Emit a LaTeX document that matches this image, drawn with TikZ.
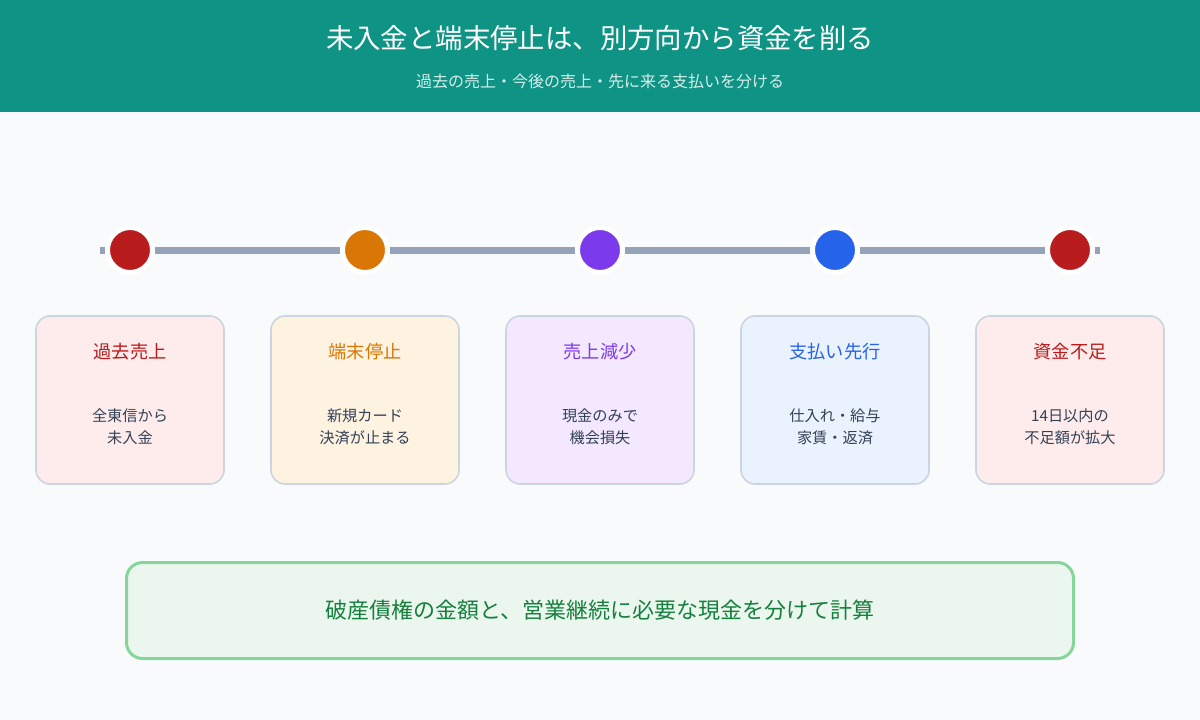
\documentclass[tikz,border=0pt]{standalone}
\usepackage{fontspec}
\setmainfont{Noto Sans CJK JP}
\definecolor{bg}{HTML}{F8FAFC}
\definecolor{teal}{HTML}{0E9384}
\definecolor{subt}{HTML}{D5EFEC}
\definecolor{linec}{HTML}{94A3B8}
\definecolor{cardb}{HTML}{CBD5E1}
\definecolor{bodyc}{HTML}{334155}
\definecolor{cred}{HTML}{B91C1C}
\definecolor{corange}{HTML}{D97706}
\definecolor{cpurple}{HTML}{7C3AED}
\definecolor{cblue}{HTML}{2563EB}
\definecolor{fred}{HTML}{FEECEC}
\definecolor{forange}{HTML}{FEF3E0}
\definecolor{fpurple}{HTML}{F3E8FF}
\definecolor{fblue}{HTML}{EAF2FE}
\definecolor{fgreen}{HTML}{EBF7EE}
\definecolor{bgreen}{HTML}{86D69B}
\definecolor{tgreen}{HTML}{15803D}
\tikzset{
  dot/.style={circle, fill=#1, draw=white, line width=5pt, minimum size=45pt, inner sep=0pt},
  card/.style={rounded corners=14pt, fill=#1, draw=cardb, line width=1.6pt, minimum width=188pt, minimum height=168pt},
  ctitle/.style={text=#1, font=\fontsize{18.2}{21}\selectfont},
  cbody/.style={text=bodyc, font=\fontsize{15.2}{22}\selectfont, align=center},
  tline/.style={draw=linec, line width=7pt}
}
\begin{document}
\begin{tikzpicture}[x=1pt,y=-1pt]
\useasboundingbox (0,0) rectangle (1200,720);
\fill[bg] (0,0) rectangle (1200,720);
\fill[teal] (0,0) rectangle (1200,112);
\node[text=white, font=\fontsize{27.4}{31}\selectfont] (title) at (600,38) {未入金と端末停止は、別方向から資金を削る};
\node[text=subt, font=\fontsize{16}{19}\selectfont] (sub) at (600,81) {過去の売上・今後の売上・先に来る支払いを分ける};

\coordinate (ls) at (100,250);
\coordinate (le) at (1100,250);
\node[dot=cred] (c1) at (130,250) {};
\node[dot=corange] (c2) at (365,250) {};
\node[dot=cpurple] (c3) at (600,250) {};
\node[dot=cblue] (c4) at (835,250) {};
\node[dot=cred] (c5) at (1070,250) {};
\draw[tline] (ls) -- (c1);
\draw[tline] (c1) -- (c2);
\draw[tline] (c2) -- (c3);
\draw[tline] (c3) -- (c4);
\draw[tline] (c4) -- (c5);
\draw[tline] (c5) -- (le);

\node[card=fred] (k1) at (130,400) {};
\node[card=forange] (k2) at (365,400) {};
\node[card=fpurple] (k3) at (600,400) {};
\node[card=fblue] (k4) at (835,400) {};
\node[card=fred] (k5) at (1070,400) {};

\node[ctitle=cred] (t1) at (130,352) {過去売上};
\node[ctitle=corange] (t2) at (365,352) {端末停止};
\node[ctitle=cpurple] (t3) at (600,352) {売上減少};
\node[ctitle=cblue] (t4) at (835,352) {支払い先行};
\node[ctitle=cred] (t5) at (1070,352) {資金不足};

\node[cbody] (b1) at (130,427) {全東信から\\未入金};
\node[cbody] (b2) at (365,427) {新規カード\\決済が止まる};
\node[cbody] (b3) at (600,427) {現金のみで\\機会損失};
\node[cbody] (b4) at (835,427) {仕入れ・給与\\家賃・返済};
\node[cbody] (b5) at (1070,427) {14日以内の\\不足額が拡大};

\node[rounded corners=16pt, fill=fgreen, draw=bgreen, line width=3pt, minimum width=947pt, minimum height=96pt, text=tgreen, font=\fontsize{22}{25}\selectfont] (sum) at (600,610.5) {破産債権の金額と、営業継続に必要な現金を分けて計算};
\end{tikzpicture}
\end{document}
